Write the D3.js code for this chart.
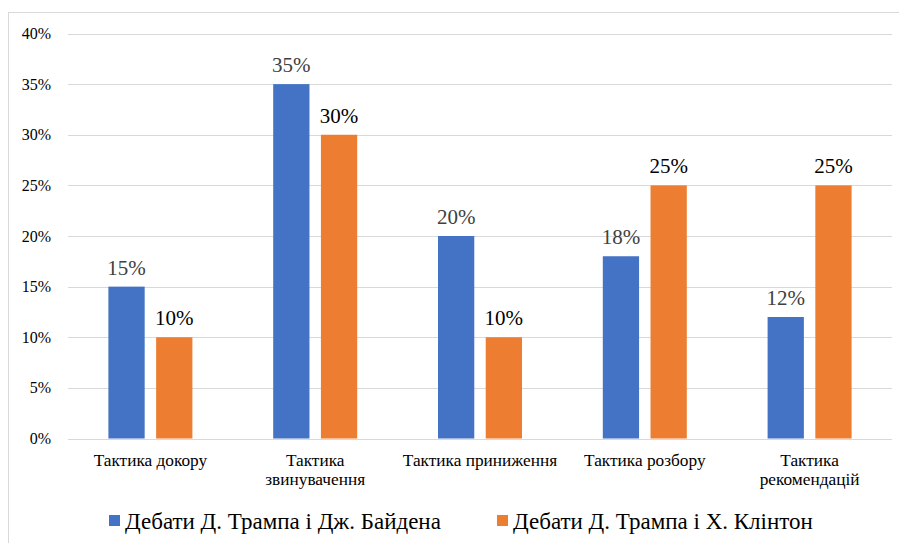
<!DOCTYPE html>
<html lang="uk">
<head>
<meta charset="UTF-8">
<title>Chart</title>
<style>
  body { margin: 0; background: #fff; }
  svg text { font-family: "Liberation Serif", "Times New Roman", serif; }
</style>
</head>
<body>
<svg width="899" height="543"></svg>
<script src="https://d3js.org/d3.v7.min.js"></script>
<script>
const categories = [
  ["Тактика докору"],
  ["Тактика", "звинувачення"],
  ["Тактика приниження"],
  ["Тактика розбору"],
  ["Тактика", "рекомендацій"]
];
const seriesNames = ["Дебати Д. Трампа і Дж. Байдена", "Дебати Д. Трампа і Х. Клінтон"];
const biden = [15, 35, 20, 18, 12];
const clinton = [10, 30, 10, 25, 25];
const yTicks = [0, 5, 10, 15, 20, 25, 30, 35, 40];
const colors = ["#4472C4", "#ED7D31"];
const labelColors = ["#404040", "#000"];

const svg = d3.select("svg");

// chart area border
svg.append("rect")
  .attr("x", 8.5).attr("y", 12.5)
  .attr("width", 900).attr("height", 540)
  .attr("fill", "none")
  .attr("stroke", "#d9d9d9");

const plotL = 68, plotR = 892, plotT = 33.5, plotB = 438.5;

const x = d3.scaleBand()
  .domain(d3.range(categories.length))
  .range([plotL, plotR]);

const x1 = d3.scaleBand()
  .domain([0, 1])
  .range([x.bandwidth() / 2 - 42, x.bandwidth() / 2 + 42])
  .paddingInner(0.24);

const y = d3.scaleLinear().domain([0, 40]).range([plotB, plotT]);

// gridlines
svg.append("g")
  .selectAll("line")
  .data(yTicks)
  .join("line")
  .attr("x1", plotL).attr("x2", plotR)
  .attr("y1", d => Math.round(y(d)) + 0.5)
  .attr("y2", d => Math.round(y(d)) + 0.5)
  .attr("stroke", "#d9d9d9")
  .attr("stroke-width", 1.2);

// y tick labels
svg.append("g")
  .selectAll("text")
  .data(yTicks)
  .join("text")
  .attr("x", 51)
  .attr("y", d => y(d) + 5.5)
  .attr("text-anchor", "end")
  .attr("font-size", 16)
  .attr("fill", "#000")
  .text(d => d + "%");

const series = [biden, clinton];
series.forEach((vals, s) => {
  const g = svg.append("g");
  g.selectAll("rect")
    .data(vals)
    .join("rect")
    .attr("x", (d, i) => x(i) + x1(s))
    .attr("y", d => y(d))
    .attr("width", x1.bandwidth())
    .attr("height", d => y(0) - y(d))
    .attr("fill", colors[s]);
  g.selectAll("text")
    .data(vals)
    .join("text")
    .attr("x", (d, i) => x(i) + x1(s) + x1.bandwidth() / 2)
    .attr("y", d => y(d) - 12)
    .attr("text-anchor", "middle")
    .attr("font-size", 21)
    .attr("fill", labelColors[s])
    .text(d => d + "%");
});

// category labels
const cat = svg.append("g")
  .selectAll("text")
  .data(categories)
  .join("text")
  .attr("x", (d, i) => x(i) + x.bandwidth() / 2)
  .attr("y", 466)
  .attr("text-anchor", "middle")
  .attr("font-size", 17.3)
  .attr("fill", "#000");
cat.selectAll("tspan")
  .data(d => d)
  .join("tspan")
  .attr("x", function () { return d3.select(this.parentNode).attr("x"); })
  .attr("dy", (d, i) => i === 0 ? 0 : 19)
  .text(d => d);

// legend
const legendX = [109, 497];
const lg = svg.append("g")
  .selectAll("g")
  .data(seriesNames)
  .join("g")
  .attr("transform", (d, i) => `translate(${legendX[i]},521)`);
lg.append("rect")
  .attr("x", 0).attr("y", -6)
  .attr("width", 11).attr("height", 11)
  .attr("fill", (d, i) => colors[i]);
lg.append("text")
  .attr("x", 16).attr("y", 8)
  .attr("font-size", 23)
  .attr("fill", "#000")
  .text(d => d);
</script>
</body>
</html>
